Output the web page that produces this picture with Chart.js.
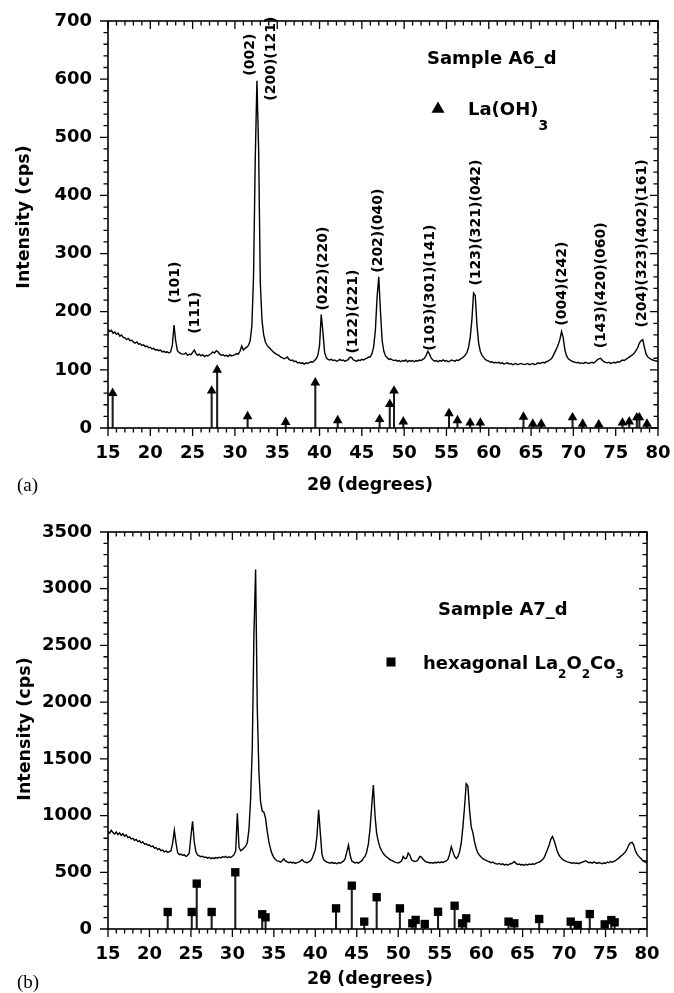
<!DOCTYPE html>
<html>
<head>
<meta charset="utf-8">
<title>XRD patterns A6_d / A7_d</title>
<script src="https://cdn.jsdelivr.net/npm/chart.js@4.4.1/dist/chart.umd.min.js"></script>
<style>
  body { margin: 0; background: #fff; }
  canvas { display: block; }
</style>
</head>
<body>
<canvas id="patternA6" width="674" height="500"></canvas>
<canvas id="patternA7" width="674" height="493"></canvas>
<script>
// Both scans: 15-80 deg 2theta, 0.2 deg step
const scanStart = 15;
const scanStep = 0.2;

// Sample A6_d counts (cps), one row per degree
const countsA6 = [
  170, 166, 168, 163, 165,  161, 163, 158, 160, 156,  155, 152, 154, 150, 151,
  148, 146, 148, 144, 145,  142, 143, 140, 141, 138,  139, 136, 137, 134, 135,
  133, 134, 131, 132, 130,  131, 129, 131, 142, 177,  150, 133, 130, 128, 127,
  127, 129, 125, 127, 126,  130, 134, 128, 125, 127,  124, 126, 123, 125, 124,
  126, 128, 131, 129, 133,  131, 127, 125, 126, 124,  125, 123, 126, 124, 125,
  126, 128, 127, 132, 141,  134, 137, 139, 142, 150,  175, 260, 460, 597, 480,
  250, 185, 160, 148, 142,  139, 136, 133, 130, 128,  126, 125, 122, 121, 119,
  120, 122, 118, 116, 117,  114, 115, 112, 113, 111,  112, 110, 112, 111, 113,
  114, 113, 116, 119, 125,  142, 195, 165, 130, 121,  118, 117, 118, 116, 117,
  115, 116, 118, 116, 117,  115, 116, 118, 122, 121,  117, 116, 115, 117, 116,
  118, 117, 119, 120, 122,  122, 128, 140, 168, 225,  260, 200, 150, 132, 124,
  121, 118, 119, 117, 116,  117, 115, 116, 114, 116,  115, 117, 114, 116, 115,
  116, 114, 116, 115, 117,  116, 118, 120, 125, 132,  127, 120, 117, 115, 116,
  114, 116, 115, 117, 115,  116, 114, 115, 117, 116,  115, 117, 116, 118, 120,
  122, 125, 129, 138, 155,  185, 232, 228, 178, 146,  132, 125, 121, 118, 116,
  115, 113, 114, 112, 113,  112, 113, 111, 112, 110,  111, 112, 110, 111, 109,
  110, 111, 109, 110, 111,  110, 109, 110, 111, 109,  110, 111, 109, 110, 112,
  111, 112, 113, 112, 114,  115, 117, 119, 124, 130,  136, 143, 152, 166, 155,
  134, 124, 119, 117, 115,  114, 113, 112, 113, 111,  112, 111, 113, 112, 111,
  112, 113, 112, 114, 117,  119, 120, 117, 114, 113,  112, 113, 111, 112, 113,
  112, 114, 113, 115, 117,  116, 118, 120, 122, 124,  126, 129, 133, 138, 146,
  150, 152, 138, 127, 122,  120, 118, 117, 116, 115,
  116
];

// Sample A7_d counts (cps)
const countsA7 = [
  860, 845, 870, 850, 838,  855, 832, 848, 825, 840,  818, 830, 805, 812, 795,
  800, 782, 790, 770, 778,  760, 768, 748, 752, 738,  740, 725, 732, 712, 718,
  700, 708, 690, 695, 680,  688, 675, 682, 690, 760,  870, 760, 672, 655, 660,
  648, 655, 640, 648, 670,  820, 950, 770, 680, 652,  645, 638, 642, 630, 635,
  625, 632, 620, 628, 622,  630, 624, 633, 626, 638,  632, 640, 628, 636, 630,
  642, 655, 690, 1020, 720,  690, 700, 715, 730, 760,  880, 1150, 1600, 2600, 3170,
  1950, 1380, 1120, 1040, 1030,  975, 860, 770, 705, 660,  630, 612, 600, 598, 590,
  602, 618, 600, 592, 585,  590, 582, 588, 578, 585,  590, 598, 612, 595, 588,
  585, 592, 600, 620, 660,  700, 820, 1050, 850, 660,  612, 598, 590, 585, 580,
  588, 578, 583, 575, 585,  580, 590, 598, 620, 680,  740, 650, 600, 590, 582,
  588, 580, 592, 600, 625,  640, 680, 750, 880, 1080,  1270, 1000, 840, 770, 720,
  690, 665, 648, 635, 625,  612, 605, 598, 590, 585,  582, 590, 600, 640, 620,
  625, 670, 650, 610, 600,  595, 598, 610, 640, 635,  615, 600, 590, 588, 582,
  585, 580, 588, 583, 590,  584, 592, 586, 595, 600,  615, 660, 726, 680, 640,
  620, 640, 680, 760, 900,  1080, 1280, 1260, 1050, 900,  850, 770, 710, 670, 650,
  635, 620, 612, 605, 598,  592, 585, 590, 580, 575,  572, 578, 568, 574, 565,
  570, 562, 572, 575, 582,  595, 578, 568, 572, 565,  568, 562, 570, 565, 572,
  568, 575, 570, 578, 585,  590, 598, 612, 630, 665,  700, 740, 790, 815, 780,
  730, 680, 650, 630, 615,  605, 598, 592, 588, 584,  580, 585, 578, 582, 576,
  584, 590, 595, 602, 592,  585, 588, 580, 592, 584,  578, 586, 580, 575, 583,
  578, 590, 584, 595, 588,  596, 602, 615, 625, 640,  650, 665, 680, 705, 740,
  760, 765, 740, 690, 660,  640, 625, 610, 598, 590,
  582
];

// La(OH)3 reference lines
const laOH3Angle = [15.55, 27.25, 27.9, 31.5, 36.0, 39.5, 42.15, 47.1, 48.3, 48.8, 49.9, 55.3, 56.3,
  57.8, 59.0, 64.1, 65.2, 66.2, 69.9, 71.1, 73.0, 75.8, 76.6, 77.5, 77.8, 78.7];
const laOH3Intensity = [60, 64, 100, 20, 10, 78, 13, 15, 41, 64, 11, 25, 13,
  9, 9, 19, 7, 7, 18, 7, 6, 9, 11, 18, 18, 7];

// hexagonal La2O2CO3 reference lines
const carbonateAngle = [22.2, 25.1, 25.7, 27.5, 30.35, 33.6, 34.0, 42.5, 44.4, 45.9, 47.4, 50.2, 51.7, 52.1,
  53.2, 54.8, 56.8, 57.7, 58.2, 63.3, 64.0, 67.0, 70.8, 71.65, 73.1, 74.9, 75.7, 76.1];
const carbonateIntensity = [150, 150, 400, 150, 500, 130, 103, 182, 382, 65, 280, 182, 50, 80,
  44, 152, 205, 50, 94, 65, 50, 88, 65, 35, 132, 41, 79, 59];

// axis ranges
const xRange = [15, 80];
const xStep = 5;
const yMaxA6 = 700, yStepA6 = 100;
const yMaxA7 = 3500, yStepA7 = 500;

const twoTheta = countsA6.map((_, i) => +(scanStart + i * scanStep).toFixed(1));

const SANS = '"DejaVu Sans", "Liberation Sans", sans-serif';
const bold = (size) => `bold ${size}px ${SANS}`;

// box frame with ticks; bottom/left point out, top/right point in
function frameTicks(t) {
  return {
    id: 'frameTicks',
    afterDraw(chart) {
      const { ctx, chartArea: { left, right, top, bottom }, scales: { x, y } } = chart;
      ctx.save();
      ctx.strokeStyle = '#000';
      ctx.lineWidth = 1.3;
      ctx.beginPath();
      for (let v = x.min; v <= x.max; v += t.xMinor) {
        const px = x.getPixelForValue(v);
        const len = v % t.xMajor === 0 ? 8 : 4.5;
        ctx.moveTo(px, bottom); ctx.lineTo(px, bottom + len);
        ctx.moveTo(px, top); ctx.lineTo(px, top + len);
      }
      for (let v = y.min; v <= y.max; v += t.yMinor) {
        const py = y.getPixelForValue(v);
        const len = v % t.yMajor === 0 ? 8 : 4.5;
        ctx.moveTo(left, py); ctx.lineTo(left - len, py);
        ctx.moveTo(right, py); ctx.lineTo(right - len, py);
      }
      ctx.stroke();
      ctx.lineWidth = 1.6;
      ctx.strokeRect(left, top, right - left, bottom - top);
      ctx.restore();
    }
  };
}

// titles, sample name, phase key and hkl labels
function panelText(t) {
  return {
    id: 'panelText',
    afterDraw(chart) {
      const { ctx, scales: { x, y } } = chart;
      ctx.save();
      ctx.fillStyle = '#000';

      ctx.font = bold(17.5);
      ctx.textAlign = 'center';
      ctx.textBaseline = 'alphabetic';
      ctx.fillText('2θ (degrees)', t.xTitle[0], t.xTitle[1]);

      ctx.save();
      ctx.translate(t.yTitle[0], t.yTitle[1]);
      ctx.rotate(-Math.PI / 2);
      ctx.textBaseline = 'middle';
      ctx.fillText('Intensity (cps)', 0, 0);
      ctx.restore();

      ctx.textAlign = 'left';
      ctx.font = `19px "Liberation Serif", "DejaVu Serif", serif`;
      ctx.fillText(t.letter, t.letterAt[0], t.letterAt[1]);

      ctx.font = bold(18);
      ctx.fillText(t.sample, t.sampleAt[0], t.sampleAt[1]);

      Chart.helpers.drawPoint(ctx, { pointStyle: t.marker, radius: t.markerRadius, borderWidth: 0, rotation: 0 },
        t.markerAt[0], t.markerAt[1]);

      let cx = t.phaseAt[0];
      for (const [piece, sub] of t.phase) {
        ctx.font = sub ? bold(t.subSize) : bold(18);
        ctx.fillText(piece, cx, t.phaseAt[1] + (sub ? t.subDrop : 0));
        cx += ctx.measureText(piece).width;
      }

      ctx.font = bold(14);
      ctx.textBaseline = 'middle';
      for (const [text, angle, cps] of t.peakLabels) {
        ctx.save();
        ctx.translate(x.getPixelForValue(angle), y.getPixelForValue(cps));
        ctx.rotate(-Math.PI / 2);
        ctx.fillText(text, 0, 0);
        ctx.restore();
      }
      ctx.restore();
    }
  };
}

function buildPanel(id, p) {
  const tickFont = { family: SANS, weight: 'bold', size: 18 };
  const sticks = p.refAngle.map((a, i) => ({ x: a, y: p.refIntensity[i] }));
  return new Chart(document.getElementById(id), {
    type: 'line',
    data: {
      datasets: [
        {
          type: 'line',
          data: p.counts.map((c, i) => ({ x: twoTheta[i], y: c })),
          borderColor: '#000',
          borderWidth: 1.4,
          pointRadius: 0,
          tension: 0,
          order: 2
        },
        {
          type: 'bar',
          data: sticks,
          backgroundColor: '#1a1a1a',
          barThickness: 1.4,
          order: 1
        },
        {
          type: 'line',
          data: sticks,
          showLine: false,
          pointStyle: p.marker,
          pointRadius: p.markerRadius,
          pointBackgroundColor: '#000',
          pointBorderWidth: 0,
          order: 0
        }
      ]
    },
    options: {
      responsive: false,
      animation: false,
      events: [],
      layout: { padding: p.padding },
      plugins: { legend: { display: false }, tooltip: { enabled: false } },
      scales: {
        x: {
          type: 'linear',
          min: xRange[0],
          max: xRange[1],
          offset: false,
          // fixed axis band; edge labels may overhang into the side margins
          afterFit: (s) => { s.height = p.xAxisHeight; s.paddingLeft = 0; s.paddingRight = 0; },
          grid: { display: false, drawTicks: false, offset: false },
          border: { display: false },
          ticks: { stepSize: xStep, padding: 15, color: '#000', font: tickFont, maxRotation: 0,
            autoSkip: false, callback: (v) => String(v) }
        },
        y: {
          min: 0,
          max: p.yMax,
          afterFit: (s) => { s.width = 108; s.paddingTop = 0; s.paddingBottom = 0; },
          grid: { display: false, drawTicks: false },
          border: { display: false },
          ticks: { stepSize: p.yStep, padding: 16, color: '#000', font: tickFont,
            callback: (v) => String(v) }
        }
      }
    },
    plugins: [frameTicks(p.ticks), panelText(p.text)]
  });
}

buildPanel('patternA6', {
  counts: countsA6,
  refAngle: laOH3Angle,
  refIntensity: laOH3Intensity,
  marker: 'triangle',
  markerRadius: 5.6,
  yMax: yMaxA6,
  yStep: yStepA6,
  padding: { top: 21, right: 16, left: 0, bottom: 0 },
  xAxisHeight: 72,
  ticks: { xMajor: 5, xMinor: 1, yMajor: 100, yMinor: 20 },
  text: {
    xTitle: [370, 490],
    yTitle: [24, 217],
    letter: '(a)',
    letterAt: [17, 491],
    sample: 'Sample A6_d',
    sampleAt: [427, 64],
    marker: 'triangle',
    markerRadius: 7.5,
    markerAt: [438, 109],
    phase: [['La(OH)', false], ['3', true]],
    phaseAt: [468, 115],
    subSize: 14,
    subDrop: 15,
    peakLabels: [
      ['(101)', 22.95, 214],
      ['(111)', 25.3, 162],
      ['(002)', 31.85, 606],
      ['(200)(121)', 34.35, 563],
      ['(022)(220)', 40.4, 202],
      ['(122)(221)', 43.95, 128],
      ['(202)(040)', 46.9, 267],
      ['(103)(301)(141)', 53.05, 133],
      ['(123)(321)(042)', 58.55, 245],
      ['(004)(242)', 68.65, 176],
      ['(143)(420)(060)', 73.3, 137],
      ['(204)(323)(402)(161)', 78.1, 173]
    ]
  }
});

buildPanel('patternA7', {
  counts: countsA7,
  refAngle: carbonateAngle,
  refIntensity: carbonateIntensity,
  marker: 'rect',
  markerRadius: 5.9,
  yMax: yMaxA7,
  yStep: yStepA7,
  padding: { top: 32, right: 27, left: 0, bottom: 0 },
  xAxisHeight: 64,
  ticks: { xMajor: 5, xMinor: 1, yMajor: 500, yMinor: 100 },
  text: {
    xTitle: [370, 484],
    yTitle: [25, 229],
    letter: '(b)',
    letterAt: [17, 488],
    sample: 'Sample A7_d',
    sampleAt: [438, 115],
    marker: 'rect',
    markerRadius: 6.4,
    markerAt: [391, 162],
    phase: [['hexagonal La', false], ['2', true], ['O', false], ['2', true], ['Co', false], ['3', true]],
    phaseAt: [423, 169],
    subSize: 12,
    subDrop: 9,
    peakLabels: []
  }
});
</script>
</body>
</html>
